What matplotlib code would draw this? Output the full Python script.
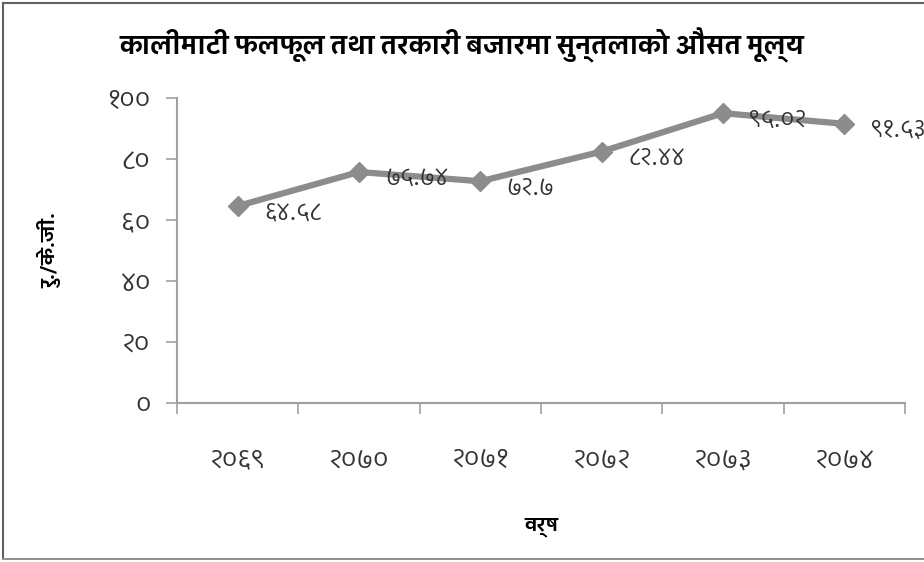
import matplotlib
matplotlib.use('Agg')
import matplotlib.pyplot as plt
from matplotlib import font_manager
from matplotlib.ft2font import FT2Font

# Average orange price, Kalimati fruit & vegetable market
years = ['२०६९', '२०७०', '२०७१', '२०७२', '२०७३', '२०७४']
prices = [64.58, 75.74, 72.7, 82.44, 95.02, 91.53]
price_labels = ['६४.५८', '७५.७४', '७२.७', '८२.४४', '९५.०२', '९१.५३']
yticks = [0, 20, 40, 60, 80, 100]
ytick_labels = ['०', '२०', '४०', '६०', '८०', '१००']

title = 'कालीमाटी फलफूल तथा तरकारी बजारमा सुन्तलाको औसत मूल्य'
xlabel = 'वर्ष'
ylabel = 'रु./के.जी.'


def devanagari_fonts():
    # installed families that actually have Devanagari glyphs
    names = []
    for f in font_manager.fontManager.ttflist:
        try:
            ft = FT2Font(f.fname)
            if ft.get_char_index(ord('क')) and ft.get_char_index(ord('६')):
                if f.name not in names:
                    names.append(f.name)
        except Exception:
            continue
    return names


def rank(name):
    n = name.lower()
    score = 0
    if 'mono' in n or 'code' in n:
        score += 10
    if 'devanagari' in n or 'lohit' in n or 'mukta' in n or 'kalimati' in n:
        score -= 5
    if 'sans' in n:
        score -= 1
    return score


cands = sorted(devanagari_fonts(), key=rank)
families = cands[:1] + ['DejaVu Sans']
plt.rcParams['font.family'] = families

fig = plt.figure(figsize=(9.24, 5.62), dpi=100)
ax = fig.add_axes([177 / 924, 1 - 403 / 562, (905 - 177) / 924, (403 - 98) / 562])

x = range(len(years))
ax.plot(x, prices, color='#8c8c8c', linewidth=4.5, marker='D', markersize=10,
        markerfacecolor='#8c8c8c', markeredgecolor='#8c8c8c', clip_on=False)

for xi, v, lab in zip(x, prices, price_labels):
    ax.annotate(lab, (xi, v), xytext=(19, -5), textcoords='offset points',
                fontsize=17, color='#333333', va='center', ha='left',
                annotation_clip=False)

ax.set_xlim(-0.5, len(years) - 0.5)
ax.set_ylim(0, 100)
ax.set_yticks(yticks)
ax.set_yticklabels(ytick_labels, fontsize=19, color='#333333')
ax.set_xticks([i - 0.5 for i in range(len(years) + 1)])
ax.set_xticklabels([])
ax.set_xticks(list(x), minor=True)
ax.set_xticklabels(years, minor=True, fontsize=19, color='#333333')
ax.tick_params(axis='x', which='major', length=8, color='#a0a0a0', width=1.2)
ax.tick_params(axis='x', which='minor', length=0, pad=32)
ax.tick_params(axis='y', length=8, color='#a0a0a0', width=1.2, pad=11)

for side in ['top', 'right']:
    ax.spines[side].set_visible(False)
for side in ['left', 'bottom']:
    ax.spines[side].set_color('#a0a0a0')
    ax.spines[side].set_linewidth(1.5)

ax.set_xlabel(xlabel, fontsize=14, fontweight='bold', labelpad=32)
ax.set_ylabel(ylabel, fontsize=14, fontweight='bold', labelpad=33)
fig.text(462 / 924, 1 - 45 / 562, title, fontsize=18.5, fontweight='bold',
         ha='center', va='center')

# thin frame round the figure
fig.add_artist(plt.Line2D([3 / 924, 3 / 924], [1 - 559 / 562, 1 - 3 / 562],
                          transform=fig.transFigure, color='#606060', lw=1.5))
fig.add_artist(plt.Line2D([3 / 924, 1], [1 - 3 / 562, 1 - 3 / 562],
                          transform=fig.transFigure, color='#606060', lw=1.5))
fig.add_artist(plt.Line2D([3 / 924, 1], [1 - 559 / 562, 1 - 559 / 562],
                          transform=fig.transFigure, color='#909090', lw=1.5))

fig.savefig('out.png', dpi=100)
